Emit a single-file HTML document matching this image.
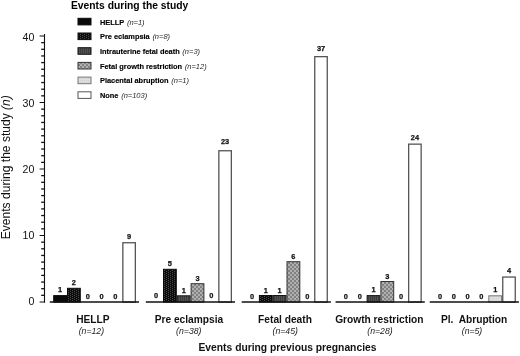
<!DOCTYPE html>
<html><head><meta charset="utf-8"><style>
html,body{margin:0;padding:0;background:#fff;}
svg{display:block;filter:grayscale(1);}
text{font-family:"Liberation Sans",sans-serif;}
</style></head><body>
<svg width="520" height="356" viewBox="0 0 520 356">
<defs>
<pattern id="pHELLP" width="4" height="4" patternUnits="userSpaceOnUse"><rect width="4" height="4" fill="#0a0a0a"/></pattern>
<pattern id="pPE" width="4" height="2" patternUnits="userSpaceOnUse"><rect width="4" height="2" fill="#0c0c0c"/><rect x="0" y="0" width="1" height="1" fill="#4a4a4a"/><rect x="2" y="1" width="1" height="1" fill="#4a4a4a"/></pattern>
<pattern id="pIUFD" width="2" height="2" patternUnits="userSpaceOnUse"><rect width="2" height="2" fill="#3c3c3c"/><rect x="1" y="0" width="1" height="2" fill="#525252"/></pattern>
<pattern id="pFGR" width="4" height="4" patternUnits="userSpaceOnUse"><rect width="4" height="4" fill="#828282"/><rect x="0" y="0" width="2" height="2" fill="#b0b0b0"/><rect x="2" y="2" width="2" height="2" fill="#b0b0b0"/></pattern>
<pattern id="pPA" width="2" height="2" patternUnits="userSpaceOnUse"><rect width="2" height="2" fill="#dedede"/><rect x="0" y="0" width="1" height="1" fill="#d2d2d2"/></pattern>
</defs>

<text x="71" y="8.8" font-size="10.3" font-weight="bold" fill="#000">Events during the study</text>
<rect x="78" y="18.30" width="13" height="6.6" fill="url(#pHELLP)" stroke="#0a0a0a" stroke-width="1"/>
<text x="100.0" y="24.50" font-size="7.4" fill="#000"><tspan font-weight="bold" stroke="#000" stroke-width="0.15">HELLP</tspan> <tspan dx="0.6" font-style="italic" font-size="7.5" fill="#2a2a2a">(n=1)</tspan></text>
<rect x="78" y="33.00" width="13" height="6.6" fill="url(#pPE)" stroke="#0a0a0a" stroke-width="1"/>
<text x="100.0" y="39.20" font-size="7.4" fill="#000"><tspan font-weight="bold" stroke="#000" stroke-width="0.15">Pre eclampsia</tspan> <tspan dx="0.6" font-style="italic" font-size="7.5" fill="#2a2a2a">(n=8)</tspan></text>
<rect x="78" y="47.70" width="13" height="6.6" fill="url(#pIUFD)" stroke="#151515" stroke-width="1"/>
<text x="100.0" y="53.90" font-size="7.4" fill="#000"><tspan font-weight="bold" stroke="#000" stroke-width="0.15">Intrauterine fetal death</tspan> <tspan dx="0.6" font-style="italic" font-size="7.5" fill="#2a2a2a">(n=3)</tspan></text>
<rect x="78" y="62.40" width="13" height="6.6" fill="url(#pFGR)" stroke="#333" stroke-width="1"/>
<text x="100.0" y="68.60" font-size="7.4" fill="#000"><tspan font-weight="bold" stroke="#000" stroke-width="0.15">Fetal growth restriction</tspan> <tspan dx="0.6" font-style="italic" font-size="7.5" fill="#2a2a2a">(n=12)</tspan></text>
<rect x="78" y="77.10" width="13" height="6.6" fill="url(#pPA)" stroke="#777" stroke-width="1"/>
<text x="100.0" y="83.30" font-size="7.4" fill="#000"><tspan font-weight="bold" stroke="#000" stroke-width="0.15">Placental abruption</tspan> <tspan dx="0.6" font-style="italic" font-size="7.5" fill="#2a2a2a">(n=1)</tspan></text>
<rect x="78" y="91.80" width="13" height="6.6" fill="#fff" stroke="#555" stroke-width="1"/>
<text x="100.0" y="98.00" font-size="7.4" fill="#000"><tspan font-weight="bold" stroke="#000" stroke-width="0.15">None</tspan> <tspan dx="0.6" font-style="italic" font-size="7.5" fill="#2a2a2a">(n=103)</tspan></text>
<line x1="44.5" y1="34" x2="44.5" y2="302.70" stroke="#111" stroke-width="1.1"/>
<line x1="39.6" y1="302.00" x2="44.5" y2="302.00" stroke="#111" stroke-width="1.0"/>
<text x="34.4" y="304.90" font-size="10.6" text-anchor="end" fill="#111">0</text>
<line x1="41.2" y1="295.35" x2="44.5" y2="295.35" stroke="#111" stroke-width="1.3"/>
<line x1="41.2" y1="288.70" x2="44.5" y2="288.70" stroke="#111" stroke-width="1.3"/>
<line x1="41.2" y1="282.05" x2="44.5" y2="282.05" stroke="#111" stroke-width="1.3"/>
<line x1="41.2" y1="275.40" x2="44.5" y2="275.40" stroke="#111" stroke-width="1.3"/>
<line x1="41.2" y1="268.75" x2="44.5" y2="268.75" stroke="#111" stroke-width="1.3"/>
<line x1="41.2" y1="262.10" x2="44.5" y2="262.10" stroke="#111" stroke-width="1.3"/>
<line x1="41.2" y1="255.45" x2="44.5" y2="255.45" stroke="#111" stroke-width="1.3"/>
<line x1="41.2" y1="248.80" x2="44.5" y2="248.80" stroke="#111" stroke-width="1.3"/>
<line x1="41.2" y1="242.15" x2="44.5" y2="242.15" stroke="#111" stroke-width="1.3"/>
<line x1="39.6" y1="235.50" x2="44.5" y2="235.50" stroke="#111" stroke-width="1.0"/>
<text x="34.4" y="238.80" font-size="10.6" text-anchor="end" fill="#111">10</text>
<line x1="41.2" y1="228.85" x2="44.5" y2="228.85" stroke="#111" stroke-width="1.3"/>
<line x1="41.2" y1="222.20" x2="44.5" y2="222.20" stroke="#111" stroke-width="1.3"/>
<line x1="41.2" y1="215.55" x2="44.5" y2="215.55" stroke="#111" stroke-width="1.3"/>
<line x1="41.2" y1="208.90" x2="44.5" y2="208.90" stroke="#111" stroke-width="1.3"/>
<line x1="41.2" y1="202.25" x2="44.5" y2="202.25" stroke="#111" stroke-width="1.3"/>
<line x1="41.2" y1="195.60" x2="44.5" y2="195.60" stroke="#111" stroke-width="1.3"/>
<line x1="41.2" y1="188.95" x2="44.5" y2="188.95" stroke="#111" stroke-width="1.3"/>
<line x1="41.2" y1="182.30" x2="44.5" y2="182.30" stroke="#111" stroke-width="1.3"/>
<line x1="41.2" y1="175.65" x2="44.5" y2="175.65" stroke="#111" stroke-width="1.3"/>
<line x1="39.6" y1="169.00" x2="44.5" y2="169.00" stroke="#111" stroke-width="1.0"/>
<text x="34.4" y="172.90" font-size="10.6" text-anchor="end" fill="#111">20</text>
<line x1="41.2" y1="162.35" x2="44.5" y2="162.35" stroke="#111" stroke-width="1.3"/>
<line x1="41.2" y1="155.70" x2="44.5" y2="155.70" stroke="#111" stroke-width="1.3"/>
<line x1="41.2" y1="149.05" x2="44.5" y2="149.05" stroke="#111" stroke-width="1.3"/>
<line x1="41.2" y1="142.40" x2="44.5" y2="142.40" stroke="#111" stroke-width="1.3"/>
<line x1="41.2" y1="135.75" x2="44.5" y2="135.75" stroke="#111" stroke-width="1.3"/>
<line x1="41.2" y1="129.10" x2="44.5" y2="129.10" stroke="#111" stroke-width="1.3"/>
<line x1="41.2" y1="122.45" x2="44.5" y2="122.45" stroke="#111" stroke-width="1.3"/>
<line x1="41.2" y1="115.80" x2="44.5" y2="115.80" stroke="#111" stroke-width="1.3"/>
<line x1="41.2" y1="109.15" x2="44.5" y2="109.15" stroke="#111" stroke-width="1.3"/>
<line x1="39.6" y1="102.50" x2="44.5" y2="102.50" stroke="#111" stroke-width="1.0"/>
<text x="34.4" y="106.90" font-size="10.6" text-anchor="end" fill="#111">30</text>
<line x1="41.2" y1="95.85" x2="44.5" y2="95.85" stroke="#111" stroke-width="1.3"/>
<line x1="41.2" y1="89.20" x2="44.5" y2="89.20" stroke="#111" stroke-width="1.3"/>
<line x1="41.2" y1="82.55" x2="44.5" y2="82.55" stroke="#111" stroke-width="1.3"/>
<line x1="41.2" y1="75.90" x2="44.5" y2="75.90" stroke="#111" stroke-width="1.3"/>
<line x1="41.2" y1="69.25" x2="44.5" y2="69.25" stroke="#111" stroke-width="1.3"/>
<line x1="41.2" y1="62.60" x2="44.5" y2="62.60" stroke="#111" stroke-width="1.3"/>
<line x1="41.2" y1="55.95" x2="44.5" y2="55.95" stroke="#111" stroke-width="1.3"/>
<line x1="41.2" y1="49.30" x2="44.5" y2="49.30" stroke="#111" stroke-width="1.3"/>
<line x1="41.2" y1="42.65" x2="44.5" y2="42.65" stroke="#111" stroke-width="1.3"/>
<line x1="39.6" y1="36.00" x2="44.5" y2="36.00" stroke="#111" stroke-width="1.0"/>
<text x="34.4" y="40.60" font-size="10.6" text-anchor="end" fill="#111">40</text>
<text transform="translate(9.6,239.2) rotate(-90)" x="0" y="0" font-size="12.05" fill="#111">Events during the study <tspan font-style="italic">(n)</tspan></text>
<rect x="53.70" y="295.60" width="12.80" height="6.50" fill="url(#pHELLP)" stroke="#0a0a0a" stroke-width="1.0"/>
<text x="60.10" y="292.20" font-size="7.4" font-weight="bold" text-anchor="middle" fill="#111" stroke="#111" stroke-width="0.25">1</text>
<rect x="67.50" y="288.30" width="12.80" height="13.80" fill="url(#pPE)" stroke="#0a0a0a" stroke-width="1.0"/>
<text x="73.90" y="284.70" font-size="7.4" font-weight="bold" text-anchor="middle" fill="#111" stroke="#111" stroke-width="0.25">2</text>
<text x="87.70" y="298.80" font-size="7.4" font-weight="bold" text-anchor="middle" fill="#111" stroke="#111" stroke-width="0.25">0</text>
<text x="101.50" y="298.80" font-size="7.4" font-weight="bold" text-anchor="middle" fill="#111" stroke="#111" stroke-width="0.25">0</text>
<text x="115.30" y="298.80" font-size="7.4" font-weight="bold" text-anchor="middle" fill="#111" stroke="#111" stroke-width="0.25">0</text>
<rect x="122.85" y="242.75" width="12.50" height="59.35" fill="#fff" stroke="#555" stroke-width="1.3"/>
<text x="129.10" y="238.70" font-size="7.4" font-weight="bold" text-anchor="middle" fill="#111" stroke="#111" stroke-width="0.25">9</text>
<line x1="49.80" y1="302.00" x2="139.00" y2="302.00" stroke="#111" stroke-width="1.3"/>
<text x="92.9" y="322.5" font-size="10.2" font-weight="bold" text-anchor="middle" fill="#111">HELLP</text>
<text x="91.4" y="333.8" font-size="8.7" font-style="italic" text-anchor="middle" fill="#222">(n=12)</text>
<text x="156.10" y="298.20" font-size="7.4" font-weight="bold" text-anchor="middle" fill="#111" stroke="#111" stroke-width="0.25">0</text>
<rect x="163.50" y="269.30" width="12.80" height="32.80" fill="url(#pPE)" stroke="#0a0a0a" stroke-width="1.0"/>
<text x="169.90" y="266.20" font-size="7.4" font-weight="bold" text-anchor="middle" fill="#111" stroke="#111" stroke-width="0.25">5</text>
<rect x="177.30" y="295.80" width="12.80" height="6.30" fill="url(#pIUFD)" stroke="#151515" stroke-width="1.0"/>
<text x="183.70" y="292.70" font-size="7.4" font-weight="bold" text-anchor="middle" fill="#111" stroke="#111" stroke-width="0.25">1</text>
<rect x="191.10" y="283.70" width="12.80" height="18.40" fill="url(#pFGR)" stroke="#333" stroke-width="1.0"/>
<text x="197.50" y="280.70" font-size="7.4" font-weight="bold" text-anchor="middle" fill="#111" stroke="#111" stroke-width="0.25">3</text>
<text x="211.30" y="298.40" font-size="7.4" font-weight="bold" text-anchor="middle" fill="#111" stroke="#111" stroke-width="0.25">0</text>
<rect x="218.85" y="150.75" width="12.50" height="151.35" fill="#fff" stroke="#555" stroke-width="1.3"/>
<text x="225.10" y="144.30" font-size="7.4" font-weight="bold" text-anchor="middle" fill="#111" stroke="#111" stroke-width="0.25">23</text>
<line x1="145.80" y1="302.00" x2="235.00" y2="302.00" stroke="#111" stroke-width="1.3"/>
<text x="188.9" y="322.5" font-size="10.2" font-weight="bold" text-anchor="middle" fill="#111">Pre eclampsia</text>
<text x="188.8" y="333.8" font-size="8.7" font-style="italic" text-anchor="middle" fill="#222">(n=38)</text>
<text x="252.00" y="298.60" font-size="7.4" font-weight="bold" text-anchor="middle" fill="#111" stroke="#111" stroke-width="0.25">0</text>
<rect x="259.40" y="295.50" width="12.80" height="6.60" fill="url(#pPE)" stroke="#0a0a0a" stroke-width="1.0"/>
<text x="265.80" y="292.50" font-size="7.4" font-weight="bold" text-anchor="middle" fill="#111" stroke="#111" stroke-width="0.25">1</text>
<rect x="273.20" y="295.50" width="12.80" height="6.60" fill="url(#pIUFD)" stroke="#151515" stroke-width="1.0"/>
<text x="279.60" y="292.50" font-size="7.4" font-weight="bold" text-anchor="middle" fill="#111" stroke="#111" stroke-width="0.25">1</text>
<rect x="287.00" y="261.70" width="12.80" height="40.40" fill="url(#pFGR)" stroke="#333" stroke-width="1.0"/>
<text x="293.40" y="258.60" font-size="7.4" font-weight="bold" text-anchor="middle" fill="#111" stroke="#111" stroke-width="0.25">6</text>
<text x="307.20" y="298.60" font-size="7.4" font-weight="bold" text-anchor="middle" fill="#111" stroke="#111" stroke-width="0.25">0</text>
<rect x="314.75" y="56.65" width="12.50" height="245.45" fill="#fff" stroke="#555" stroke-width="1.3"/>
<text x="321.00" y="51.00" font-size="7.4" font-weight="bold" text-anchor="middle" fill="#111" stroke="#111" stroke-width="0.25">37</text>
<line x1="241.70" y1="302.00" x2="330.90" y2="302.00" stroke="#111" stroke-width="1.3"/>
<text x="285" y="322.5" font-size="10.2" font-weight="bold" text-anchor="middle" fill="#111">Fetal death</text>
<text x="285.2" y="333.8" font-size="8.7" font-style="italic" text-anchor="middle" fill="#222">(n=45)</text>
<text x="345.90" y="298.50" font-size="7.4" font-weight="bold" text-anchor="middle" fill="#111" stroke="#111" stroke-width="0.25">0</text>
<text x="359.70" y="298.50" font-size="7.4" font-weight="bold" text-anchor="middle" fill="#111" stroke="#111" stroke-width="0.25">0</text>
<rect x="367.10" y="295.60" width="12.80" height="6.50" fill="url(#pIUFD)" stroke="#151515" stroke-width="1.0"/>
<text x="373.50" y="292.40" font-size="7.4" font-weight="bold" text-anchor="middle" fill="#111" stroke="#111" stroke-width="0.25">1</text>
<rect x="380.90" y="281.50" width="12.80" height="20.60" fill="url(#pFGR)" stroke="#333" stroke-width="1.0"/>
<text x="387.30" y="278.70" font-size="7.4" font-weight="bold" text-anchor="middle" fill="#111" stroke="#111" stroke-width="0.25">3</text>
<text x="401.10" y="298.50" font-size="7.4" font-weight="bold" text-anchor="middle" fill="#111" stroke="#111" stroke-width="0.25">0</text>
<rect x="408.65" y="144.15" width="12.50" height="157.95" fill="#fff" stroke="#555" stroke-width="1.3"/>
<text x="414.90" y="139.90" font-size="7.4" font-weight="bold" text-anchor="middle" fill="#111" stroke="#111" stroke-width="0.25">24</text>
<line x1="335.60" y1="302.00" x2="424.80" y2="302.00" stroke="#111" stroke-width="1.3"/>
<text x="379.3" y="322.5" font-size="10.2" font-weight="bold" text-anchor="middle" fill="#111">Growth restriction</text>
<text x="380" y="333.8" font-size="8.7" font-style="italic" text-anchor="middle" fill="#222">(n=28)</text>
<text x="440.00" y="298.50" font-size="7.4" font-weight="bold" text-anchor="middle" fill="#111" stroke="#111" stroke-width="0.25">0</text>
<text x="453.80" y="298.50" font-size="7.4" font-weight="bold" text-anchor="middle" fill="#111" stroke="#111" stroke-width="0.25">0</text>
<text x="467.60" y="298.50" font-size="7.4" font-weight="bold" text-anchor="middle" fill="#111" stroke="#111" stroke-width="0.25">0</text>
<text x="481.40" y="298.50" font-size="7.4" font-weight="bold" text-anchor="middle" fill="#111" stroke="#111" stroke-width="0.25">0</text>
<rect x="488.80" y="295.80" width="12.80" height="6.30" fill="url(#pPA)" stroke="#777" stroke-width="1.0"/>
<text x="495.20" y="292.40" font-size="7.4" font-weight="bold" text-anchor="middle" fill="#111" stroke="#111" stroke-width="0.25">1</text>
<rect x="502.75" y="277.05" width="12.50" height="25.05" fill="#fff" stroke="#555" stroke-width="1.3"/>
<text x="509.00" y="272.70" font-size="7.4" font-weight="bold" text-anchor="middle" fill="#111" stroke="#111" stroke-width="0.25">4</text>
<line x1="429.70" y1="302.00" x2="518.90" y2="302.00" stroke="#111" stroke-width="1.3"/>
<text x="474.1" y="322.5" font-size="10.2" font-weight="bold" text-anchor="middle" fill="#111">Pl.  Abruption</text>
<text x="472" y="333.8" font-size="8.7" font-style="italic" text-anchor="middle" fill="#222">(n=5)</text>
<text x="198.5" y="350.8" font-size="10.3" font-weight="bold" fill="#111">Events during previous pregnancies</text>
</svg>
</body></html>
